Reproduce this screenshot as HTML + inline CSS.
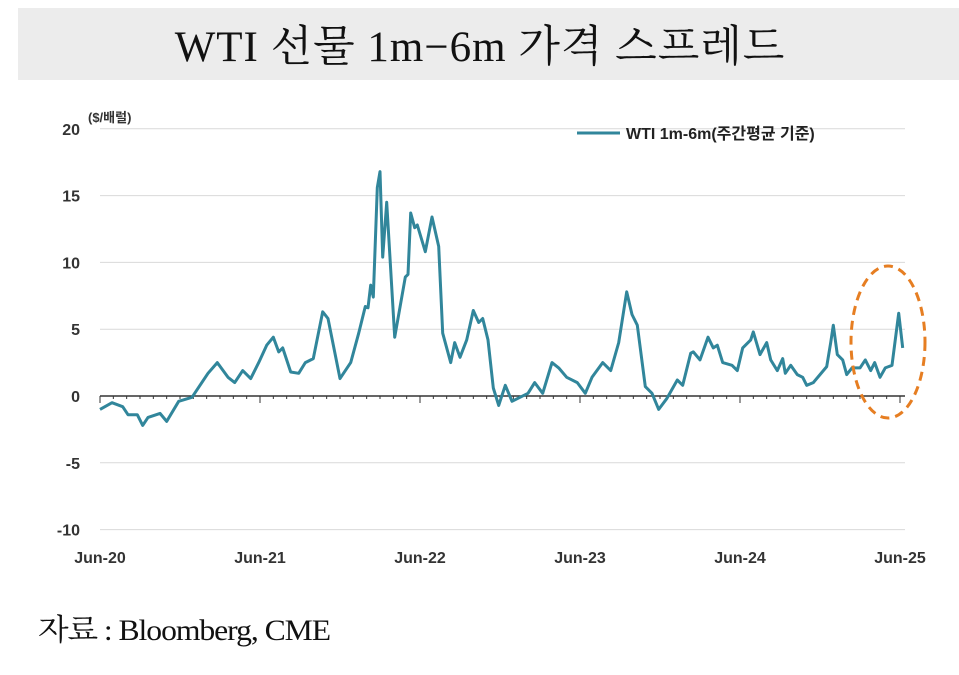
<!DOCTYPE html>
<html><head><meta charset="utf-8"><style>
body{margin:0;width:959px;height:670px;background:#fff;overflow:hidden;font-family:"Liberation Sans","Noto Sans CJK KR",sans-serif}
</style></head><body>
<svg width="959" height="670" viewBox="0 0 959 670">
<rect x="18" y="8" width="941" height="72" fill="#ececec"/>
<text x="480" y="61" text-anchor="middle" font-family="Liberation Serif,'Noto Serif CJK SC',serif" font-size="43" letter-spacing="1" fill="#111">WTI 선물 1m−6m 가격 스프레드</text>
<text x="88" y="122" font-size="13" font-weight="bold" fill="#333">($/배럴)</text>
<g id="grid"></g><g id="ylabels"></g><g id="xlabels"></g>
<polyline id="series" fill="none" stroke="#31869b" stroke-width="3" stroke-linejoin="round"/>
<ellipse cx="888" cy="342" rx="37" ry="76" fill="none" stroke="#e67e22" stroke-width="3" stroke-dasharray="9,6"/>
<line x1="577" y1="133" x2="620" y2="133" stroke="#31869b" stroke-width="3"/>
<text x="626" y="139" font-size="16" font-weight="600" fill="#222">WTI 1m-6m(주간평균 기준)</text>
<text x="38" y="640" font-family="Liberation Serif,'Noto Serif CJK KR',serif" font-size="30" letter-spacing="-1" fill="#111" textLength="292" lengthAdjust="spacingAndGlyphs">자료 : Bloomberg, CME</text>
</svg>
<script>
const months=[0,0.9,1.7,2.1,2.8,3.2,3.6,4.5,5.0,5.9,6.9,8.1,8.8,9.6,10.1,10.7,11.3,11.9,12.5,13.0,13.4,13.7,14.3,14.9,15.4,16.0,16.7,17.1,18.0,18.8,19.4,19.9,20.1,20.3,20.5,20.8,21.0,21.2,21.5,22.1,22.9,23.1,23.3,23.6,23.8,24.4,24.9,25.4,25.7,26.3,26.6,27.0,27.5,28.0,28.4,28.7,29.1,29.5,29.9,30.4,30.9,31.5,32.1,32.6,33.2,33.9,34.4,35.0,35.8,36.4,36.9,37.7,38.3,38.9,39.5,39.9,40.3,40.9,41.4,41.9,42.5,43.3,43.7,44.3,44.5,45.0,45.6,46.0,46.3,46.7,47.4,47.8,48.2,48.8,49.0,49.5,50.0,50.3,50.8,51.2,51.4,51.8,52.3,52.7,53.0,53.5,54.0,54.5,54.8,55.0,55.3,55.7,56.0,56.4,57.0,57.4,57.8,58.1,58.5,58.9,59.4,59.9,60.2];
const values=[-1.0,-0.5,-0.8,-1.4,-1.4,-2.2,-1.6,-1.3,-1.9,-0.4,-0.1,1.7,2.5,1.4,1.0,1.9,1.3,2.5,3.8,4.4,3.3,3.6,1.8,1.7,2.5,2.8,6.3,5.8,1.3,2.5,4.7,6.7,6.6,8.3,7.4,15.6,16.8,10.4,14.5,4.4,8.9,9.1,13.7,12.6,12.8,10.8,13.4,11.2,4.7,2.5,4.0,2.9,4.2,6.4,5.5,5.8,4.2,0.6,-0.7,0.8,-0.4,-0.1,0.2,1.0,0.2,2.5,2.1,1.4,1.0,0.2,1.4,2.5,1.9,4.0,7.8,6.1,5.3,0.7,0.2,-1.0,-0.2,1.2,0.8,3.2,3.3,2.7,4.4,3.6,3.8,2.5,2.3,1.9,3.6,4.2,4.8,3.1,4.0,2.7,1.9,2.8,1.7,2.3,1.6,1.4,0.8,1.0,1.6,2.2,4.0,5.3,3.1,2.7,1.6,2.1,2.1,2.7,1.9,2.5,1.4,2.1,2.3,6.2,3.6];
const yTicks=[20,15,10,5,0,-5,-10];
const xTickLabels=["Jun-20","Jun-21","Jun-22","Jun-23","Jun-24","Jun-25"];
const X=m=>100+m*160/12, Y=v=>396-v*13.36;
const NS="http://www.w3.org/2000/svg";
const grid=document.getElementById('grid'),yl=document.getElementById('ylabels'),xl=document.getElementById('xlabels');
yTicks.forEach(t=>{
 const l=document.createElementNS(NS,'line');
 l.setAttribute('x1',100);l.setAttribute('x2',905);l.setAttribute('y1',Y(t));l.setAttribute('y2',Y(t));
 l.setAttribute('stroke',t===0?'#333':'#d9d9d9');l.setAttribute('stroke-width',t===0?1.5:1);
 
 
 grid.appendChild(l);
 const tx=document.createElementNS(NS,'text');
 tx.setAttribute('x',80);tx.setAttribute('y',Y(t)+6);tx.setAttribute('text-anchor','end');tx.setAttribute('font-size','16');tx.setAttribute('font-weight','bold');tx.setAttribute('fill','#333');
 tx.textContent=t;
 
 
 yl.appendChild(tx);
});
for(let m=0;m<=60;m++){
 const l=document.createElementNS(NS,'line');
 const major=m%12===0;
 l.setAttribute('x1',X(m));l.setAttribute('x2',X(m));l.setAttribute('y1',396);l.setAttribute('y2',major?403:399);
 l.setAttribute('stroke','#333');
 
 
 grid.appendChild(l);
}
xTickLabels.forEach((s,i)=>{
 const tx=document.createElementNS(NS,'text');
 tx.setAttribute('x',X(i*12));tx.setAttribute('y',563);tx.setAttribute('text-anchor','middle');tx.setAttribute('font-size','16');tx.setAttribute('font-weight','bold');tx.setAttribute('fill','#333');
 tx.textContent=s;
 
 
 xl.appendChild(tx);
});
document.getElementById('series').setAttribute('points',months.map((m,i)=>X(m).toFixed(1)+','+Y(values[i]).toFixed(1)).join(' '));
</script>
</body></html>
